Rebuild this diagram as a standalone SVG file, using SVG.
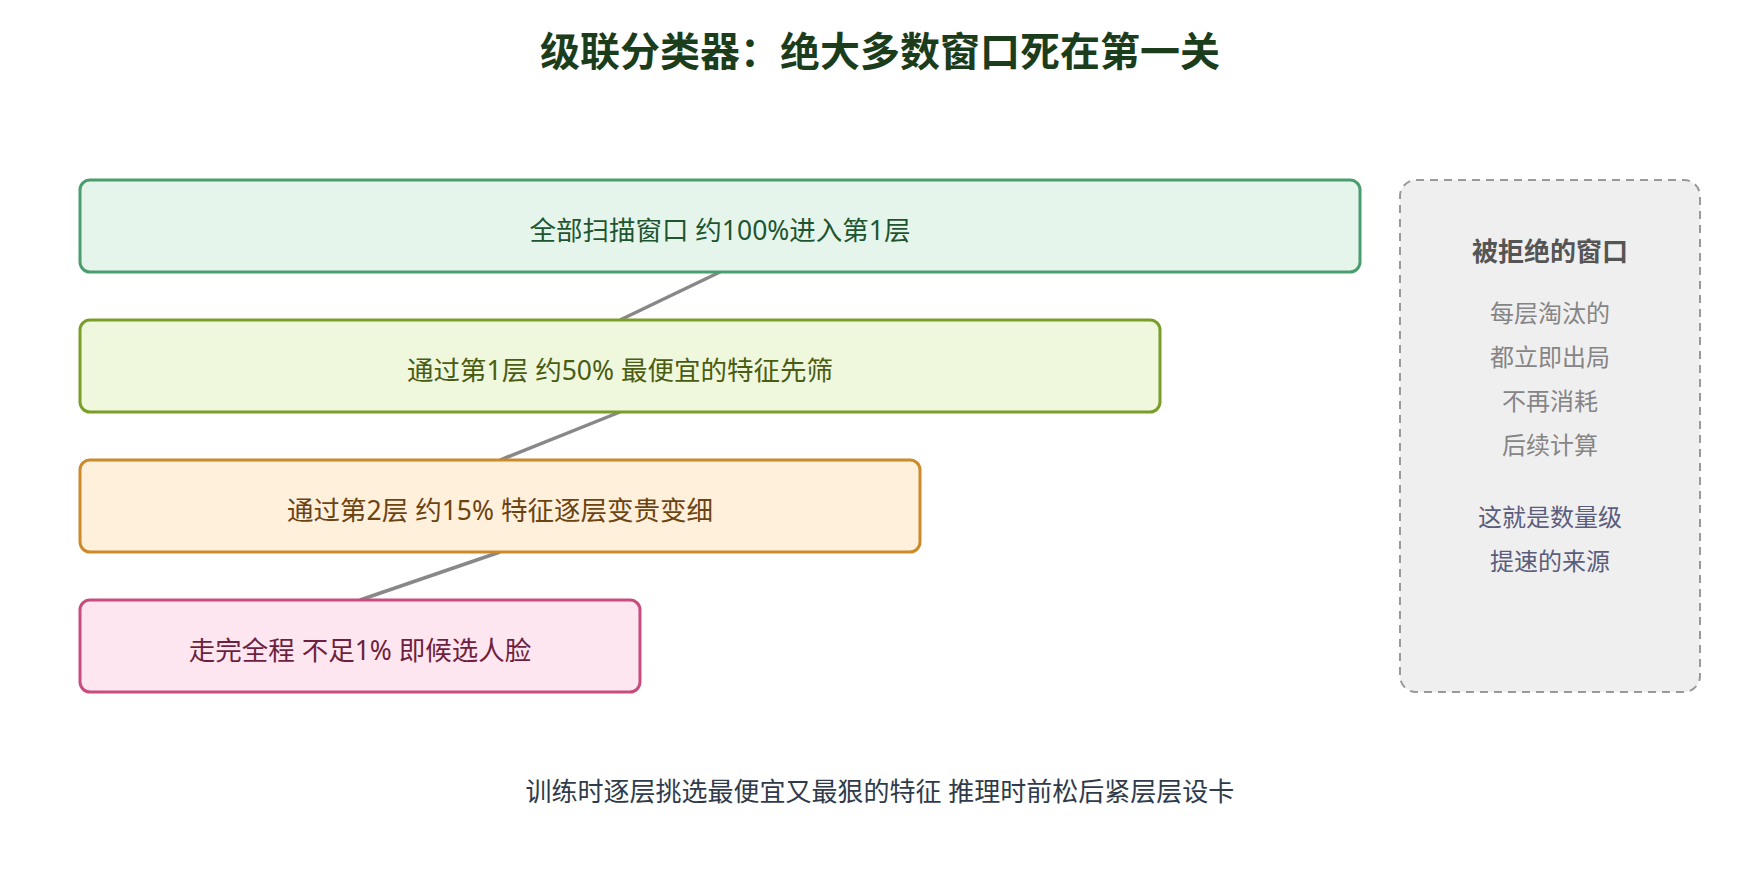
<svg xmlns="http://www.w3.org/2000/svg" width="1760" height="880" viewBox="0 0 1760 880">
  <style>
    text { font-family: "Noto Sans", "Noto Sans CJK SC", sans-serif; text-anchor: middle; dominant-baseline: central; }
    .title { font-size: 40px; font-weight: 700; fill: #1c3d1c; }
    .box { stroke-width: 3; }
    .lbl { font-size: 26.5px; }
    .side-title { font-size: 26px; font-weight: 700; fill: #555555; }
    .side { font-size: 24px; fill: #858585; }
    .side2 { font-size: 24px; fill: #5a5e7c; }
    .foot { font-size: 26px; fill: #2f3b4a; }
    .conn { stroke: #888888; stroke-width: 3.5; fill: none; }
  </style>
  <rect width="1760" height="880" fill="#ffffff"/>
  <text class="title" x="880" y="50">级联分类器：绝大多数窗口死在第一关</text>

  <g id="connectors">
    <line class="conn" x1="720" y1="272" x2="620" y2="320"/>
    <line class="conn" x1="620" y1="412" x2="500" y2="460"/>
    <line class="conn" x1="500" y1="552" x2="360" y2="600"/>
  </g>

  <g id="node-all">
    <rect class="box" x="80" y="180" width="1280" height="92" rx="10" fill="#e6f5ec" stroke="#4a9e6e"/>
    <text class="lbl" x="720" y="229.5" fill="#1e5530">全部扫描窗口 约100%进入第1层</text>
  </g>
  <g id="node-stage1">
    <rect class="box" x="80" y="320" width="1080" height="92" rx="10" fill="#eff7dc" stroke="#7a9e2a"/>
    <text class="lbl" x="620" y="369.5" fill="#4a5c12">通过第1层 约50% 最便宜的特征先筛</text>
  </g>
  <g id="node-stage2">
    <rect class="box" x="80" y="460" width="840" height="92" rx="10" fill="#fff0dc" stroke="#cc8a2a"/>
    <text class="lbl" x="500" y="509.5" fill="#6b4412">通过第2层 约15% 特征逐层变贵变细</text>
  </g>
  <g id="node-final">
    <rect class="box" x="80" y="600" width="560" height="92" rx="10" fill="#fde6ef" stroke="#c94c7e"/>
    <text class="lbl" x="360" y="649.5" fill="#6e1f3e">走完全程 不足1% 即候选人脸</text>
  </g>

  <g id="node-rejected">
    <rect x="1400" y="180" width="300" height="512" rx="16" fill="#f0eff0" stroke="#999999" stroke-width="2" stroke-dasharray="8 6"/>
    <text class="side-title" x="1550" y="251">被拒绝的窗口</text>
    <text class="side" x="1550" y="312">每层淘汰的</text>
    <text class="side" x="1550" y="356">都立即出局</text>
    <text class="side" x="1550" y="400">不再消耗</text>
    <text class="side" x="1550" y="444">后续计算</text>
    <text class="side2" x="1550" y="516">这就是数量级</text>
    <text class="side2" x="1550" y="560">提速的来源</text>
  </g>

  <text class="foot" x="880" y="791">训练时逐层挑选最便宜又最狠的特征 推理时前松后紧层层设卡</text>
</svg>
